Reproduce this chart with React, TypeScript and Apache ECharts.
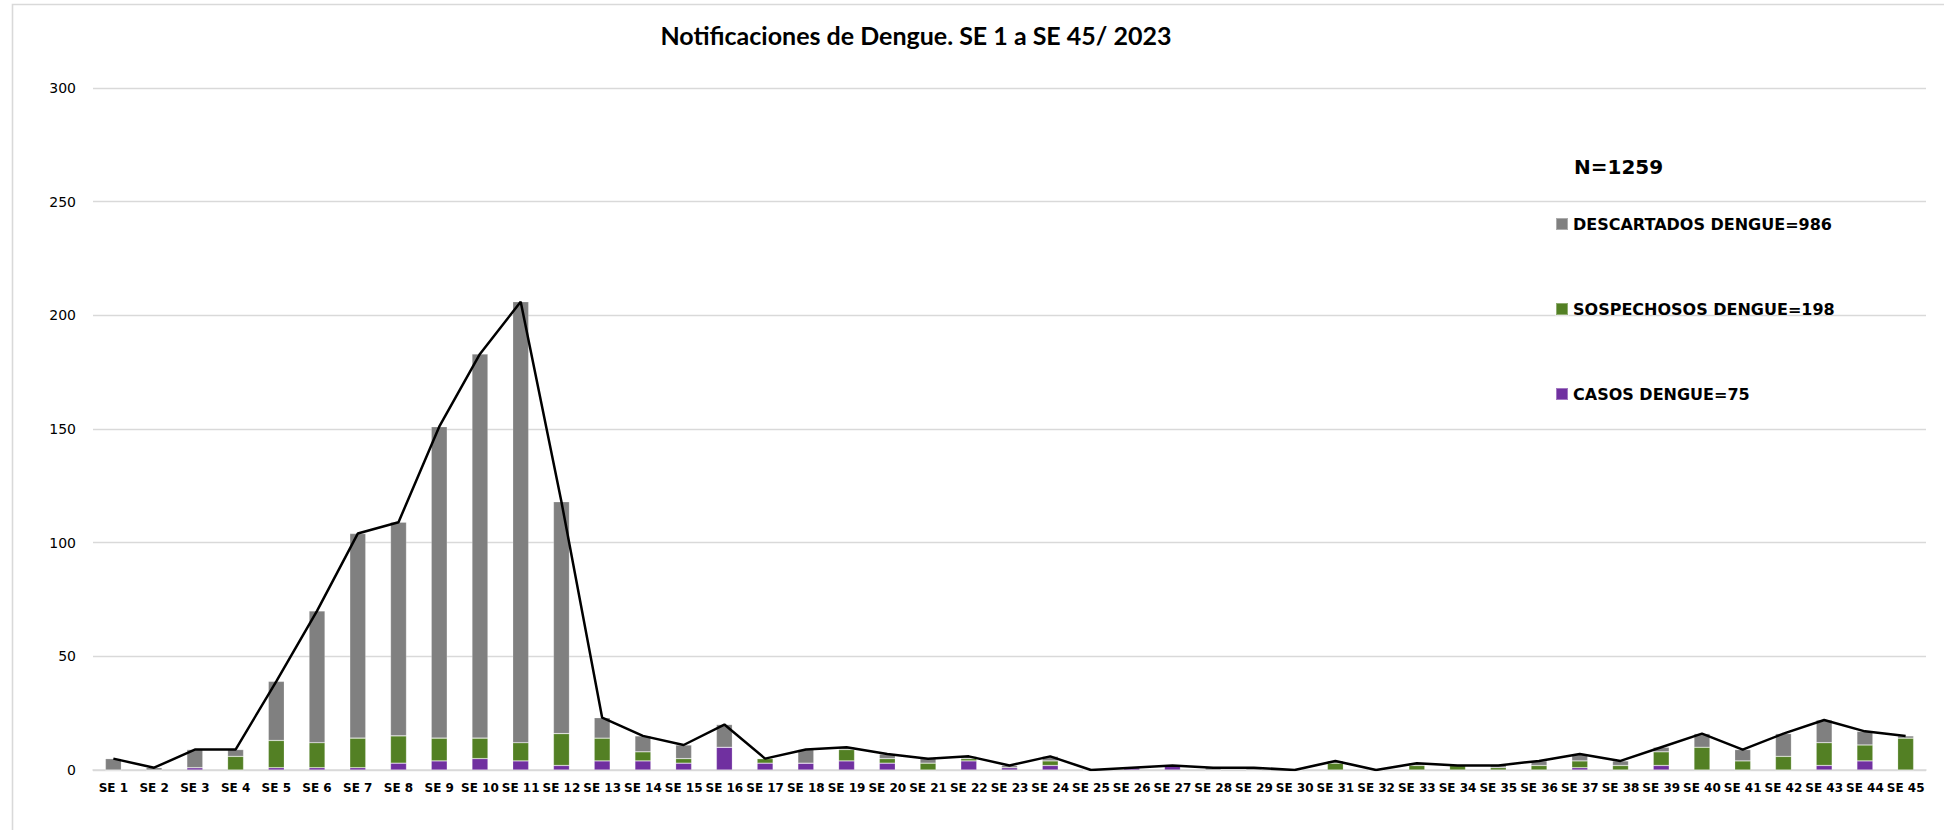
import React, { useEffect, useRef } from "react";
import * as echarts from "echarts";

const categories = [
  "SE 1", "SE 2", "SE 3", "SE 4", "SE 5", "SE 6", "SE 7", "SE 8", "SE 9", "SE 10",
  "SE 11", "SE 12", "SE 13", "SE 14", "SE 15", "SE 16", "SE 17", "SE 18", "SE 19", "SE 20",
  "SE 21", "SE 22", "SE 23", "SE 24", "SE 25", "SE 26", "SE 27", "SE 28", "SE 29", "SE 30",
  "SE 31", "SE 32", "SE 33", "SE 34", "SE 35", "SE 36", "SE 37", "SE 38", "SE 39", "SE 40",
  "SE 41", "SE 42", "SE 43", "SE 44", "SE 45",
];

const casos = [
  0, 0, 1, 0, 1, 1, 1, 3, 4, 5,
  4, 2, 4, 4, 3, 10, 3, 3, 4, 3,
  0, 4, 1, 2, 0, 1, 2, 0, 0, 0,
  0, 0, 0, 0, 0, 0, 1, 0, 2, 0,
  0, 0, 2, 4, 0,
];

const sospechosos = [
  0, 0, 0, 6, 12, 11, 13, 12, 10, 9,
  8, 14, 10, 4, 2, 0, 2, 0, 5, 2,
  3, 1, 0, 2, 0, 0, 0, 0, 0, 0,
  3, 0, 2, 2, 1, 2, 3, 2, 6, 10,
  4, 6, 10, 7, 14,
];

const descartados = [
  5, 1, 8, 3, 26, 58, 90, 94, 137, 169,
  194, 102, 9, 7, 6, 10, 0, 6, 1, 2,
  2, 1, 1, 2, 0, 0, 0, 1, 1, 0,
  1, 0, 1, 0, 1, 2, 3, 2, 2, 6,
  5, 10, 10, 6, 1,
];

const totales = [
  5, 1, 9, 9, 39, 70, 104, 109, 151, 183,
  206, 118, 23, 15, 11, 20, 5, 9, 10, 7,
  5, 6, 2, 6, 0, 1, 2, 1, 1, 0,
  4, 0, 3, 2, 2, 4, 7, 4, 10, 16,
  9, 16, 22, 17, 15,
];

const yTicks = { min: 0, max: 300, interval: 50 };

const names = {
  descartados: "DESCARTADOS DENGUE=986",
  sospechosos: "SOSPECHOSOS DENGUE=198",
  casos: "CASOS DENGUE=75",
  total: "TOTAL",
};

const titleText = "Notificaciones de Dengue. SE 1 a SE 45/ 2023";
const nText = "N=1259";

export default function App() {
  const ref = useRef<HTMLDivElement>(null);

  useEffect(() => {
    document.body.style.margin = "0";
    if (!ref.current) return;
    const chart = echarts.init(ref.current, undefined, { renderer: "svg" });
    const barBorder = { borderColor: "rgba(255,255,255,0.35)", borderWidth: 0.6 };
    chart.setOption({
      animation: false,
      backgroundColor: "#ffffff",
      title: {
        text: titleText,
        left: 911,
        top: 17,
        textAlign: "center",
        textStyle: {
          fontFamily: "Lato",
          fontWeight: "bold",
          fontSize: 25,
          color: "#000000",
        },
      },
      graphic: [
        {
          type: "rect",
          silent: true,
          z: -10,
          shape: { x: 12.5, y: 4.5, width: 2000, height: 1000 },
          style: { fill: "none", stroke: "#d9d9d9", lineWidth: 1.6 },
        },
        {
          type: "text",
          x: 1574,
          y: 167,
          style: {
            text: nText,
            fontFamily: "DejaVu Sans",
            fontWeight: "bold",
            fontSize: 20,
            fill: "#000000",
            textVerticalAlign: "middle",
          },
        },
      ],
      legend: {
        orient: "vertical",
        left: 1550,
        top: 211,
        itemGap: 69,
        itemWidth: 12,
        itemHeight: 12,
        icon: "rect",
        data: [names.descartados, names.sospechosos, names.casos],
        textStyle: {
          fontFamily: "DejaVu Sans",
          fontWeight: "bold",
          fontSize: 16,
          color: "#000000",
        },
      },
      grid: { left: 93, right: 18, top: 88, bottom: 60, containLabel: false },
      xAxis: {
        type: "category",
        data: categories,
        boundaryGap: true,
        axisTick: { show: false },
        axisLine: { show: true, lineStyle: { color: "#d9d9d9", width: 1.5 } },
        axisLabel: {
          interval: 0,
          margin: 12,
          fontFamily: "DejaVu Sans",
          fontWeight: "bold",
          fontSize: 12,
          color: "#000000",
        },
      },
      yAxis: {
        type: "value",
        min: yTicks.min,
        max: yTicks.max,
        interval: yTicks.interval,
        axisLine: { show: false },
        axisTick: { show: false },
        splitLine: { lineStyle: { color: "#d9d9d9", width: 1.3 } },
        axisLabel: {
          margin: 17,
          fontFamily: "DejaVu Sans",
          fontSize: 14,
          color: "#000000",
        },
      },
      series: [
        {
          name: names.casos,
          type: "bar",
          stack: "total",
          barWidth: 16,
          data: casos,
          itemStyle: { color: "#7030a0", ...barBorder },
        },
        {
          name: names.sospechosos,
          type: "bar",
          stack: "total",
          barWidth: 16,
          data: sospechosos,
          itemStyle: { color: "#538024", ...barBorder },
        },
        {
          name: names.descartados,
          type: "bar",
          stack: "total",
          barWidth: 16,
          data: descartados,
          itemStyle: { color: "#808080", ...barBorder },
        },
        {
          name: names.total,
          type: "line",
          data: totales,
          symbol: "none",
          z: 5,
          lineStyle: { color: "#000000", width: 2.5 },
        },
      ],
    });
    return () => chart.dispose();
  }, []);

  return <div ref={ref} style={{ width: 1944, height: 830 }} />;
}
